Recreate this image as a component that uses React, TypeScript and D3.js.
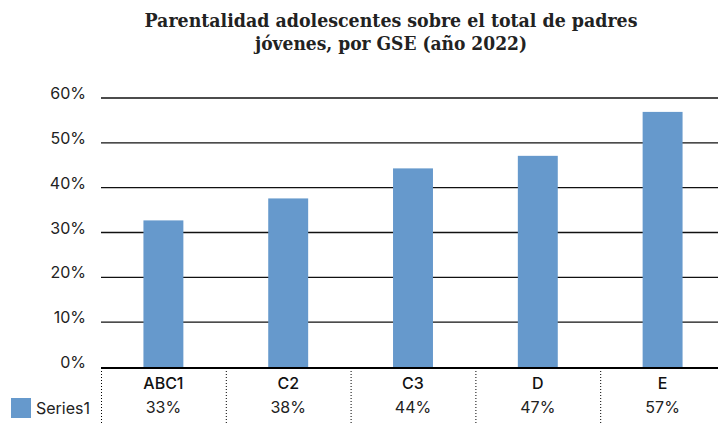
import { useEffect, useRef } from "react";
import * as d3 from "d3";

const titleLines = [
  "Parentalidad adolescentes sobre el total de padres",
  "jóvenes, por GSE (año 2022)",
];
const titleWidths = [493, 272];
const categories = ["ABC1", "C2", "C3", "D", "E"];
const seriesName = "Series1";
const values = [0.327, 0.376, 0.443, 0.471, 0.569];
const yTicks = [0, 0.1, 0.2, 0.3, 0.4, 0.5, 0.6];

const width = 718;
const height = 425;
const barColor = "#6699cc";
const sansFont = "Inter, 'Noto Sans', sans-serif";

export default function App() {
  const svgRef = useRef<SVGSVGElement | null>(null);

  useEffect(() => {
    if (!svgRef.current) return;
    const margin = { top: 98, right: 0, bottom: 58, left: 101 };
    const innerWidth = width - margin.left - margin.right;
    const innerHeight = height - margin.top - margin.bottom;

    const svg = d3.select(svgRef.current);
    svg.selectAll("*").remove();

    // Title
    svg
      .append("g")
      .selectAll("text")
      .data(titleLines)
      .enter()
      .append("text")
      .attr("x", 391)
      .attr("y", (_d, i) => 27 + i * 23)
      .attr("text-anchor", "middle")
      .attr("font-family", "'DejaVu Serif', serif")
      .attr("font-weight", 700)
      .attr("font-size", 18.5)
      .attr("textLength", (_d, i) => titleWidths[i])
      .attr("lengthAdjust", "spacingAndGlyphs")
      .attr("fill", "#222")
      .text((d) => d);

    const g = svg
      .append("g")
      .attr("transform", `translate(${margin.left},${margin.top})`);

    // table columns run past the right edge of the picture
    const x = d3
      .scaleBand<string>()
      .domain(categories)
      .range([0, 624])
      .paddingInner(0.68)
      .paddingOuter(0.34);

    const y = d3.scaleLinear().domain([0, 0.6]).range([innerHeight, 0]);

    // Gridlines
    g.selectAll("line.grid")
      .data(yTicks.filter((t) => t > 0))
      .enter()
      .append("line")
      .attr("class", "grid")
      .attr("x1", 0)
      .attr("x2", innerWidth)
      .attr("y1", (d) => y(d))
      .attr("y2", (d) => y(d))
      .attr("stroke", "#111")
      .attr("stroke-width", 1.3);

    // Y labels
    g.selectAll("text.ytick")
      .data(yTicks)
      .enter()
      .append("text")
      .attr("class", "ytick")
      .attr("x", -15)
      .attr("y", (d) => y(d) + 1)
      .attr("text-anchor", "end")
      .attr("font-family", sansFont)
      .attr("font-size", 16)
      .attr("fill", "#222")
      .text((d) => d3.format(".0%")(d));

    // Bars
    g.selectAll("rect.bar")
      .data(values)
      .enter()
      .append("rect")
      .attr("class", "bar")
      .attr("x", (_d, i) => x(categories[i]) || 0)
      .attr("width", x.bandwidth())
      .attr("y", (d) => y(d))
      .attr("height", (d) => y(0) - y(d))
      .attr("fill", barColor);

    // Baseline
    g.append("line")
      .attr("x1", 0)
      .attr("x2", innerWidth)
      .attr("y1", y(0) + 1)
      .attr("y2", y(0) + 1)
      .attr("stroke", "#000")
      .attr("stroke-width", 2);

    // Data table
    const step = x.step();
    const start = (x(categories[0]) || 0) - x.paddingOuter() * step;
    g.selectAll("line.sep")
      .data(d3.range(categories.length + 1))
      .enter()
      .append("line")
      .attr("class", "sep")
      .attr("x1", (i) => start + i * step + 0.5)
      .attr("x2", (i) => start + i * step + 0.5)
      .attr("y1", innerHeight + 4)
      .attr("y2", height - margin.top)
      .attr("stroke", "#000")
      .attr("stroke-width", 1)
      .attr("stroke-dasharray", "1,2");

    const center = (c: string) => (x(c) || 0) + x.bandwidth() / 2;
    g.selectAll("text.cat")
      .data(categories)
      .enter()
      .append("text")
      .attr("class", "cat")
      .attr("x", (d) => center(d))
      .attr("y", innerHeight + 22)
      .attr("text-anchor", "middle")
      .attr("font-family", sansFont)
      .attr("font-weight", 500)
      .attr("font-size", 16)
      .attr("fill", "#111")
      .text((d) => d);

    g.selectAll("text.val")
      .data(values)
      .enter()
      .append("text")
      .attr("class", "val")
      .attr("x", (_d, i) => center(categories[i]))
      .attr("y", innerHeight + 46)
      .attr("text-anchor", "middle")
      .attr("font-family", sansFont)
      .attr("font-size", 16)
      .attr("fill", "#222")
      .text((d) => d3.format(".0%")(d));

    // Legend key
    svg
      .append("rect")
      .attr("x", 11)
      .attr("y", 398)
      .attr("width", 20)
      .attr("height", 20)
      .attr("fill", barColor);
    svg
      .append("text")
      .attr("x", 36)
      .attr("y", 414)
      .attr("font-family", sansFont)
      .attr("font-size", 16)
      .attr("fill", "#222")
      .text(seriesName);
  }, []);

  return (
    <svg
      ref={svgRef}
      width={width}
      height={height}
      style={{ position: "absolute", left: 0, top: 0, background: "#fff" }}
    />
  );
}
